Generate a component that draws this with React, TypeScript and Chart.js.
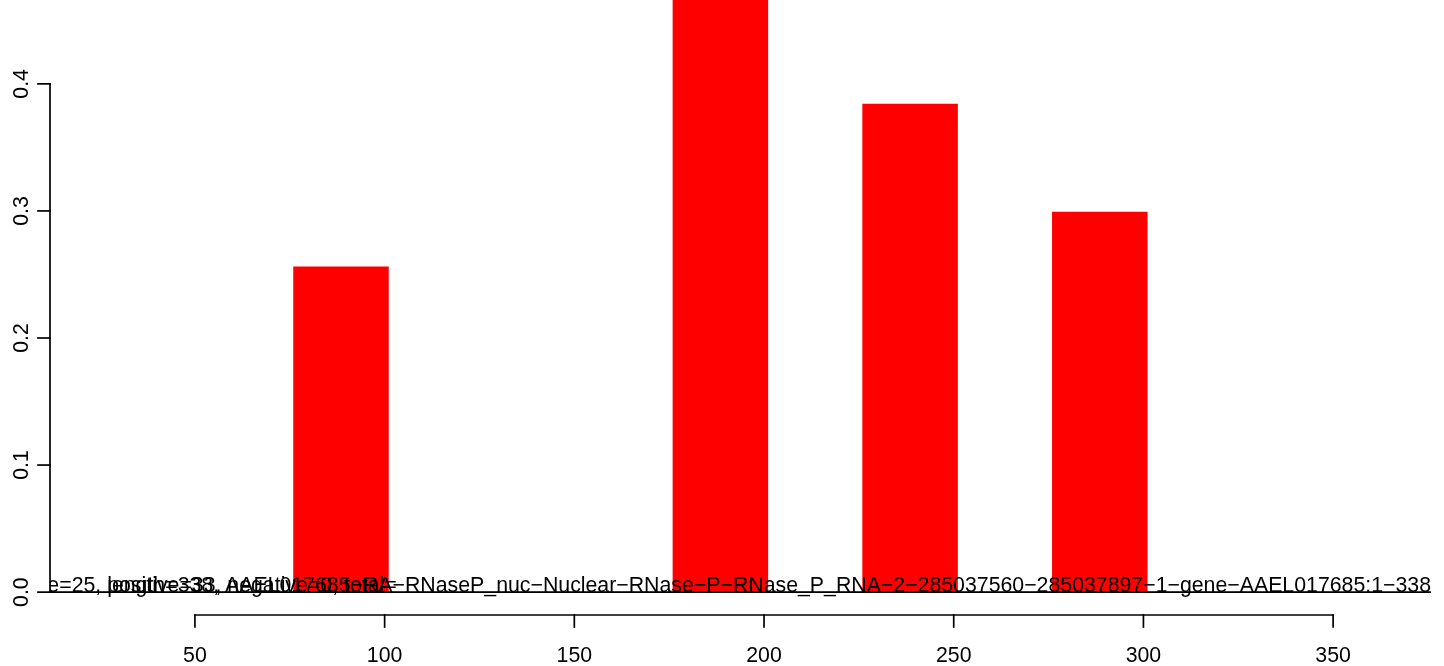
import React, { useEffect, useRef } from "react";
import { Chart, registerables } from "chart.js";

Chart.register(...registerables);

// Histogram bins (width 25) – bin centres and fractions
const binCenters = [13.5, 38.5, 63.5, 88.5, 113.5, 138.5, 163.5, 188.5, 213.5, 238.5, 263.5, 288.5, 313.5, 338.5];
const binValues = [0, 0, 0, 0.256, 0, 0, 0, 0.5, 0, 0.384, 0, 0.299, 0, 0];

const xTicks = [50, 100, 150, 200, 250, 300, 350];
const yTicks = [0, 0.1, 0.2, 0.3, 0.4];
const yTickLabels = ["0.0", "0.1", "0.2", "0.3", "0.4"];

const textPrefix = "binsize=25, ";
const textStats = "positive=33, negative=0, total=";
const textName =
  "length=338, AAEL017685\u2212RA\u2212RNaseP_nuc\u2212Nuclear\u2212RNase\u2212P\u2212RNase_P_RNA\u22122\u2212285037560\u2212285037897\u22121\u2212gene\u2212AAEL017685:1\u2212338";

const X_MIN = 11.8;
const X_MAX = 375.8;
const Y_MIN = -0.018;
const Y_MAX = 0.466;

const FONT = '21.3px "Liberation Sans", Arial, Helvetica, sans-serif';
const LW = 1.7;

const rPlot = {
  id: "rPlot",
  afterDatasetsDraw(chart: any) {
    const { ctx, chartArea, scales } = chart;
    const xs = scales.x;
    const ys = scales.y;
    const y0 = ys.getPixelForValue(0);
    ctx.save();
    ctx.beginPath();
    ctx.rect(chartArea.left, chartArea.top, chartArea.right - chartArea.left, chartArea.bottom - chartArea.top);
    ctx.clip();
    // baseline
    ctx.strokeStyle = "#000";
    ctx.lineWidth = LW;
    ctx.beginPath();
    ctx.moveTo(chartArea.left, y0);
    ctx.lineTo(chartArea.right, y0);
    ctx.stroke();
    // annotation texts
    ctx.font = FONT;
    ctx.fillStyle = "#000";
    ctx.textBaseline = "alphabetic";
    const nameW = ctx.measureText(textName).width;
    const startX = xs.getPixelForValue(X_MAX) - nameW;
    ctx.textAlign = "left";
    ctx.fillText(textName, startX, y0);
    const preW = ctx.measureText(textPrefix).width;
    ctx.fillText(textPrefix + textStats, startX - preW, y0);
    ctx.restore();
  },
  afterDraw(chart: any) {
    const { ctx, chartArea, scales } = chart;
    const xs = scales.x;
    const ys = scales.y;
    ctx.save();
    ctx.strokeStyle = "#000";
    ctx.fillStyle = "#000";
    ctx.lineWidth = LW;
    ctx.lineCap = "square";
    ctx.font = FONT;
    // y axis
    const ax = chartArea.left;
    const yTop = ys.getPixelForValue(yTicks[yTicks.length - 1]);
    const yBot = ys.getPixelForValue(yTicks[0]);
    ctx.beginPath();
    ctx.moveTo(ax, yBot);
    ctx.lineTo(ax, yTop);
    ctx.stroke();
    yTicks.forEach((v, i) => {
      const py = ys.getPixelForValue(v);
      ctx.beginPath();
      ctx.moveTo(ax, py);
      ctx.lineTo(ax - 12, py);
      ctx.stroke();
      ctx.save();
      ctx.translate(28, py);
      ctx.rotate(-Math.PI / 2);
      ctx.textAlign = "center";
      ctx.textBaseline = "alphabetic";
      ctx.fillText(yTickLabels[i], 0, 0);
      ctx.restore();
    });
    // x axis
    const ay = chartArea.bottom;
    const xl = xs.getPixelForValue(xTicks[0]);
    const xr = xs.getPixelForValue(xTicks[xTicks.length - 1]);
    ctx.beginPath();
    ctx.moveTo(xl, ay);
    ctx.lineTo(xr, ay);
    ctx.stroke();
    xTicks.forEach((v) => {
      const px = xs.getPixelForValue(v);
      ctx.beginPath();
      ctx.moveTo(px, ay);
      ctx.lineTo(px, ay + 12);
      ctx.stroke();
      ctx.textAlign = "center";
      ctx.textBaseline = "alphabetic";
      ctx.fillText(String(v), px, ay + 47);
    });
    ctx.restore();
  },
};

export default function App() {
  const ref = useRef<HTMLCanvasElement | null>(null);
  useEffect(() => {
    if (!ref.current) return;
    const chart = new Chart(ref.current, {
      type: "bar",
      data: {
        datasets: [
          {
            data: binCenters.map((x, i) => ({ x, y: binValues[i] })),
            backgroundColor: "#FF0000",
            borderWidth: 0,
            barPercentage: 1,
            categoryPercentage: 1,
          } as any,
        ],
      },
      options: {
        animation: false,
        responsive: false,
        devicePixelRatio: 1,
        layout: { padding: { left: 50, right: 13, top: 0, bottom: 51 } },
        plugins: { legend: { display: false }, tooltip: { enabled: false } },
        scales: {
          x: { type: "linear", min: X_MIN, max: X_MAX, display: false, offset: false },
          y: { type: "linear", min: Y_MIN, max: Y_MAX, display: false },
        },
      },
      plugins: [rPlot],
    });
    return () => chart.destroy();
  }, []);
  return (
    <div style={{ position: "fixed", left: 0, top: 0, width: 1444, height: 666, background: "#fff" }}>
      <canvas ref={ref} width={1444} height={666} />
    </div>
  );
}
